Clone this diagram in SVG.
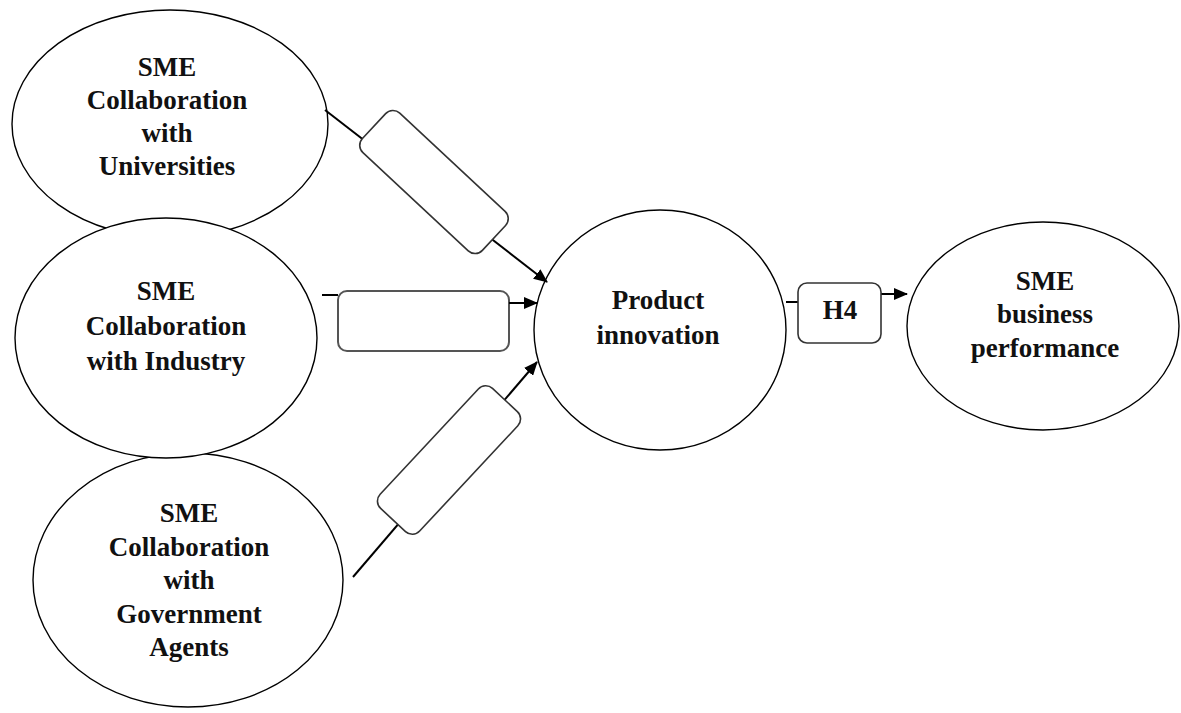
<svg xmlns="http://www.w3.org/2000/svg" width="1181" height="713" viewBox="0 0 1181 713">
<style>
.node{fill:#fff;stroke:#000;stroke-width:1.4}
.lbl{font-family:"Liberation Serif","Times New Roman",serif;font-weight:bold;font-size:27px;fill:#111;text-anchor:middle}
.conn{stroke:#000;stroke-width:2;fill:none}
.box{fill:#fff;stroke:#333;stroke-width:1.6}
.box2{fill:#fff;stroke:#555;stroke-width:2}
</style>
<defs>
<marker id="arr" markerUnits="userSpaceOnUse" markerWidth="14" markerHeight="12" refX="13" refY="6" orient="auto" viewBox="0 0 14 12">
<path d="M0,0 L14,6 L0,12 z" fill="#000"/>
</marker>
</defs>
<rect width="1181" height="713" fill="#fff"/>
<g id="n-universities">
<ellipse class="node" cx="170" cy="124" rx="158" ry="114"/>
<text class="lbl" x="167" y="76">SME</text>
<text class="lbl" x="167" y="109">Collaboration</text>
<text class="lbl" x="167" y="142">with</text>
<text class="lbl" x="167" y="175">Universities</text>
</g>
<g id="n-government">
<ellipse class="node" cx="188" cy="580" rx="155" ry="127"/>
<text class="lbl" x="189" y="522">SME</text>
<text class="lbl" x="189" y="556">Collaboration</text>
<text class="lbl" x="189" y="589">with</text>
<text class="lbl" x="189" y="623">Government</text>
<text class="lbl" x="189" y="656">Agents</text>
</g>
<g id="n-industry">
<ellipse class="node" cx="166" cy="338" rx="151" ry="120"/>
<text class="lbl" x="166" y="300">SME</text>
<text class="lbl" x="166" y="335">Collaboration</text>
<text class="lbl" x="166" y="370">with Industry</text>
</g>
<g id="n-product">
<ellipse class="node" cx="660" cy="330" rx="126" ry="120"/>
<text class="lbl" x="658" y="309">Product</text>
<text class="lbl" x="658" y="344">innovation</text>
</g>
<g id="n-performance">
<ellipse class="node" cx="1043" cy="326" rx="136" ry="104"/>
<text class="lbl" x="1045" y="290">SME</text>
<text class="lbl" x="1045" y="323">business</text>
<text class="lbl" x="1045" y="357">performance</text>
</g>
<g id="connectors">
<line class="conn" x1="325" y1="110" x2="547" y2="282" marker-end="url(#arr)"/>
<rect class="box" x="-82" y="-27" width="164" height="54" rx="10" transform="translate(434,182) rotate(43)"/>
<line class="conn" x1="322" y1="295" x2="338" y2="295"/>
<rect class="box2" x="338" y="291" width="171" height="60" rx="9"/>
<line class="conn" x1="509" y1="303" x2="537" y2="303" marker-end="url(#arr)"/>
<line class="conn" x1="353" y1="577" x2="537" y2="362" marker-end="url(#arr)"/>
<rect class="box" x="-82" y="-27" width="164" height="54" rx="10" transform="translate(449,460) rotate(-47)"/>
<line class="conn" x1="786" y1="302" x2="798" y2="302"/>
<line class="conn" x1="881" y1="294" x2="907" y2="294" marker-end="url(#arr)"/>
<g id="h4">
<rect class="box" x="798" y="283" width="83" height="60" rx="9"/>
<text class="lbl" x="840" y="319">H4</text>
</g>
</g>
</svg>
